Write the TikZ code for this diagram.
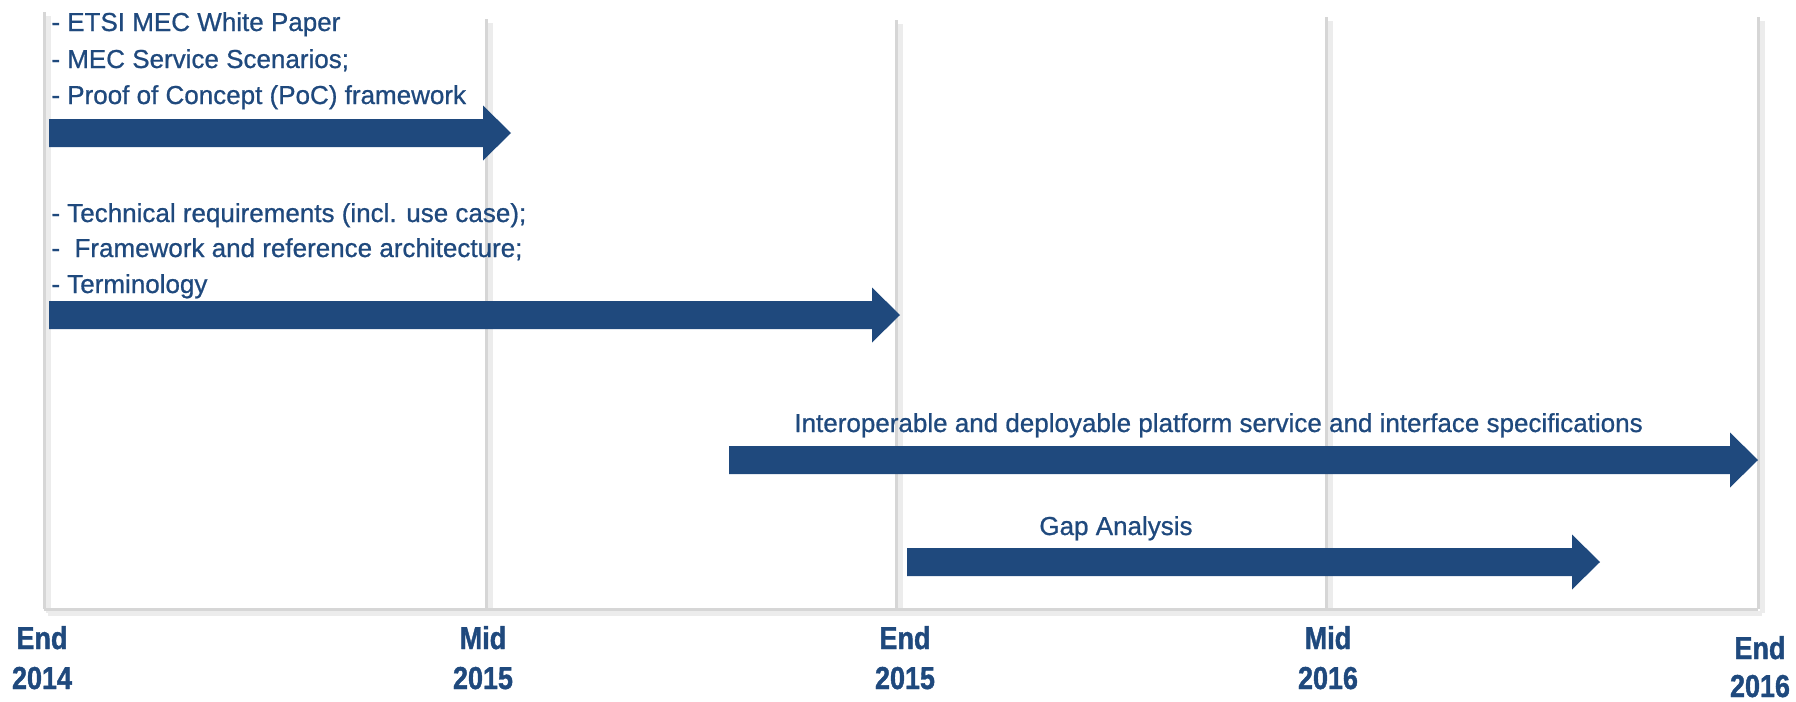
\documentclass[tikz,border=0pt]{standalone}
\usepackage{fontspec}
\newfontfamily\txtfont[FakeBold=0.8]{Liberation Sans}
\newfontfamily\lblfont[FakeStretch=0.85,FakeBold=1.2]{Liberation Sans}
\definecolor{navy}{RGB}{31,73,125}
\definecolor{gridc}{RGB}{214,214,214}
\definecolor{gridsh}{RGB}{236,236,236}
\newcommand\blockarr[3]{%
  \fill[navy] (#1,#3-14) -- (#2-28,#3-14) -- (#2-28,#3-27.5) -- (#2,#3)
    -- (#2-28,#3+27.5) -- (#2-28,#3+14) -- (#1,#3+14) -- cycle;}
\begin{document}
\begin{tikzpicture}[x=0.5pt,y=-0.5pt,
  item/.style={anchor=base west,inner sep=0pt,text=navy,font=\txtfont\fontsize{13pt}{15pt}\selectfont},
  lbl/.style={anchor=base,inner sep=0pt,text=navy,font=\lblfont\bfseries\fontsize{15.85pt}{18pt}\selectfont},
  gline/.style={draw=gridc,line width=1.5pt},
  gshadow/.style={draw=gridsh,line width=2.5pt}]
\useasboundingbox (0,0) rectangle (1796,702);
% grid shadows
\foreach \gx/\gy in {44/12,486/19,896/20,1326/17,1758/17}{
  \draw[gshadow] (\gx+4,\gy+4) -- (\gx+4,613);
}
\draw[gshadow] (48,613) -- (1762,613);
% grid lines
\foreach \gx/\gy in {44/12,486/19,896/20,1326/17,1758/17}{
  \draw[gline] (\gx,\gy) -- (\gx,609);
}
\draw[gline] (44,609) -- (1758,609);
% arrows
\blockarr{49}{511}{133}
\blockarr{49}{900}{315}
\blockarr{729}{1758}{460}
\blockarr{907}{1600}{562}
% texts
\node[item] (t1) at (51,31) {- ETSI MEC White Paper};
\node[item] (t2) at (51,68) {- MEC Service Scenarios;};
\node[item] (t3) at (51,104) {- Proof of Concept (PoC) framework};
\node[item] (t4) at (51,222) {- Technical requirements (incl. use case);};
\node[item] (t5) at (51,257) {- \ Framework and reference architecture;};
\node[item] (t6) at (51,293) {- Terminology};
\node[item] (t7) at (794,432) {Interoperable and deployable platform service and interface specifications};
\node[item] (t8) at (1039,535) {Gap Analysis};
% labels
\node[lbl] (l1a) at (42,649) {End};
\node[lbl] (l1b) at (42,689) {2014};
\node[lbl] (l2a) at (483,649) {Mid};
\node[lbl] (l2b) at (483,689) {2015};
\node[lbl] (l3a) at (905,649) {End};
\node[lbl] (l3b) at (905,689) {2015};
\node[lbl] (l4a) at (1328,649) {Mid};
\node[lbl] (l4b) at (1328,689) {2016};
\node[lbl] (l5a) at (1760,659) {End};
\node[lbl] (l5b) at (1760,697) {2016};
\end{tikzpicture}
\end{document}
